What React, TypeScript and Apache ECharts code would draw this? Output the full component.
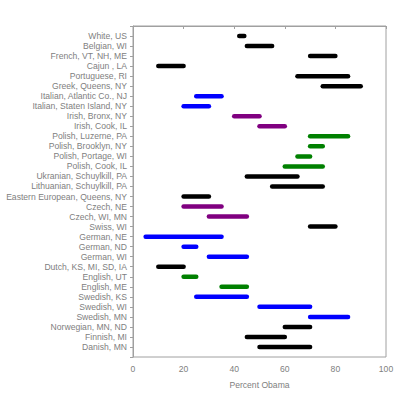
import React, { useEffect, useRef } from "react";
import * as echarts from "echarts";

const categories = [
  "White, US", "Belgian, WI", "French, VT, NH, ME", "Cajun , LA", "Portuguese, RI",
  "Greek, Queens, NY", "Italian, Atlantic Co., NJ", "Italian, Staten Island, NY",
  "Irish, Bronx, NY", "Irish, Cook, IL", "Polish, Luzerne, PA", "Polish, Brooklyn, NY",
  "Polish, Portage, WI", "Polish, Cook, IL", "Ukranian, Schuylkill, PA",
  "Lithuanian, Schuylkill, PA", "Eastern European, Queens, NY", "Czech, NE",
  "Czech, WI, MN", "Swiss, WI", "German, NE", "German, ND", "German, WI",
  "Dutch, KS, MI, SD, IA", "English, UT", "English, ME", "Swedish, KS", "Swedish, WI",
  "Swedish, MN", "Norwegian, MN, ND", "Finnish, MI", "Danish, MN",
];

const lows = [42, 45, 70, 10, 65, 75, 25, 20, 40, 50, 70, 70, 65, 60, 45, 55, 20, 20, 30, 70, 5, 20, 30, 10, 20, 35, 25, 50, 70, 60, 45, 50];
const highs = [44, 55, 80, 20, 85, 90, 35, 30, 50, 60, 85, 75, 70, 75, 65, 75, 30, 35, 45, 80, 35, 25, 45, 20, 25, 45, 45, 70, 85, 70, 60, 70];
const groups = ["k", "k", "k", "k", "k", "k", "b", "b", "p", "p", "g", "g", "g", "g", "k", "k", "k", "p", "p", "k", "b", "b", "b", "k", "g", "g", "b", "b", "b", "k", "k", "k"];
const groupColors: Record<string, string> = { k: "#000000", b: "#0000ff", p: "#800080", g: "#008000" };

export default function App() {
  const ref = useRef<HTMLDivElement>(null);
  useEffect(() => {
    if (!ref.current) return;
    const chart = echarts.init(ref.current, undefined, { renderer: "svg" });
    const data = categories.map((c, i) => [i + 1, lows[i], highs[i], groups[i]]);
    const font = { color: "#808080", fontSize: 8.6, fontFamily: "Liberation Sans" };
    chart.setOption({
      animation: false,
      grid: { left: 133, right: 14, top: 26, bottom: 32, show: true, borderColor: "#a0a0a0", borderWidth: 1 },
      xAxis: {
        type: "value",
        min: 0,
        max: 100,
        interval: 20,
        name: "Percent Obama",
        nameLocation: "middle",
        nameGap: 23,
        nameTextStyle: font,
        axisLine: { show: true, lineStyle: { color: "#a0a0a0" } },
        axisTick: { show: true, length: 3, lineStyle: { color: "#a0a0a0" } },
        axisLabel: { ...font, margin: 7 },
        splitLine: { show: false },
      },
      yAxis: {
        type: "value",
        min: 0,
        max: 33,
        interval: 1,
        inverse: true,
        axisLine: { show: true, lineStyle: { color: "#a0a0a0" } },
        axisTick: { show: true, length: 3, lineStyle: { color: "#a0a0a0" } },
        axisLabel: {
          ...font,
          margin: 6,
          formatter: (v: number) => categories[v - 1] ?? "",
        },
        splitLine: { show: false },
      },
      series: [
        {
          type: "custom",
          data,
          encode: { x: [1, 2], y: 0 },
          renderItem: (params: any, api: any) => {
            const y = api.value(0);
            const p1 = api.coord([api.value(1), y]);
            const p2 = api.coord([api.value(2), y]);
            const color = groupColors[data[params.dataIndex][3] as string];
            return {
              type: "line",
              shape: { x1: p1[0], y1: p1[1], x2: p2[0], y2: p2[1] },
              style: { stroke: color, lineWidth: 4.5, lineCap: "round" },
            };
          },
        },
      ],
    });
    return () => chart.dispose();
  }, []);
  return <div ref={ref} style={{ width: 400, height: 394, position: "absolute", left: 0, top: 0, background: "#fff" }} />;
}
